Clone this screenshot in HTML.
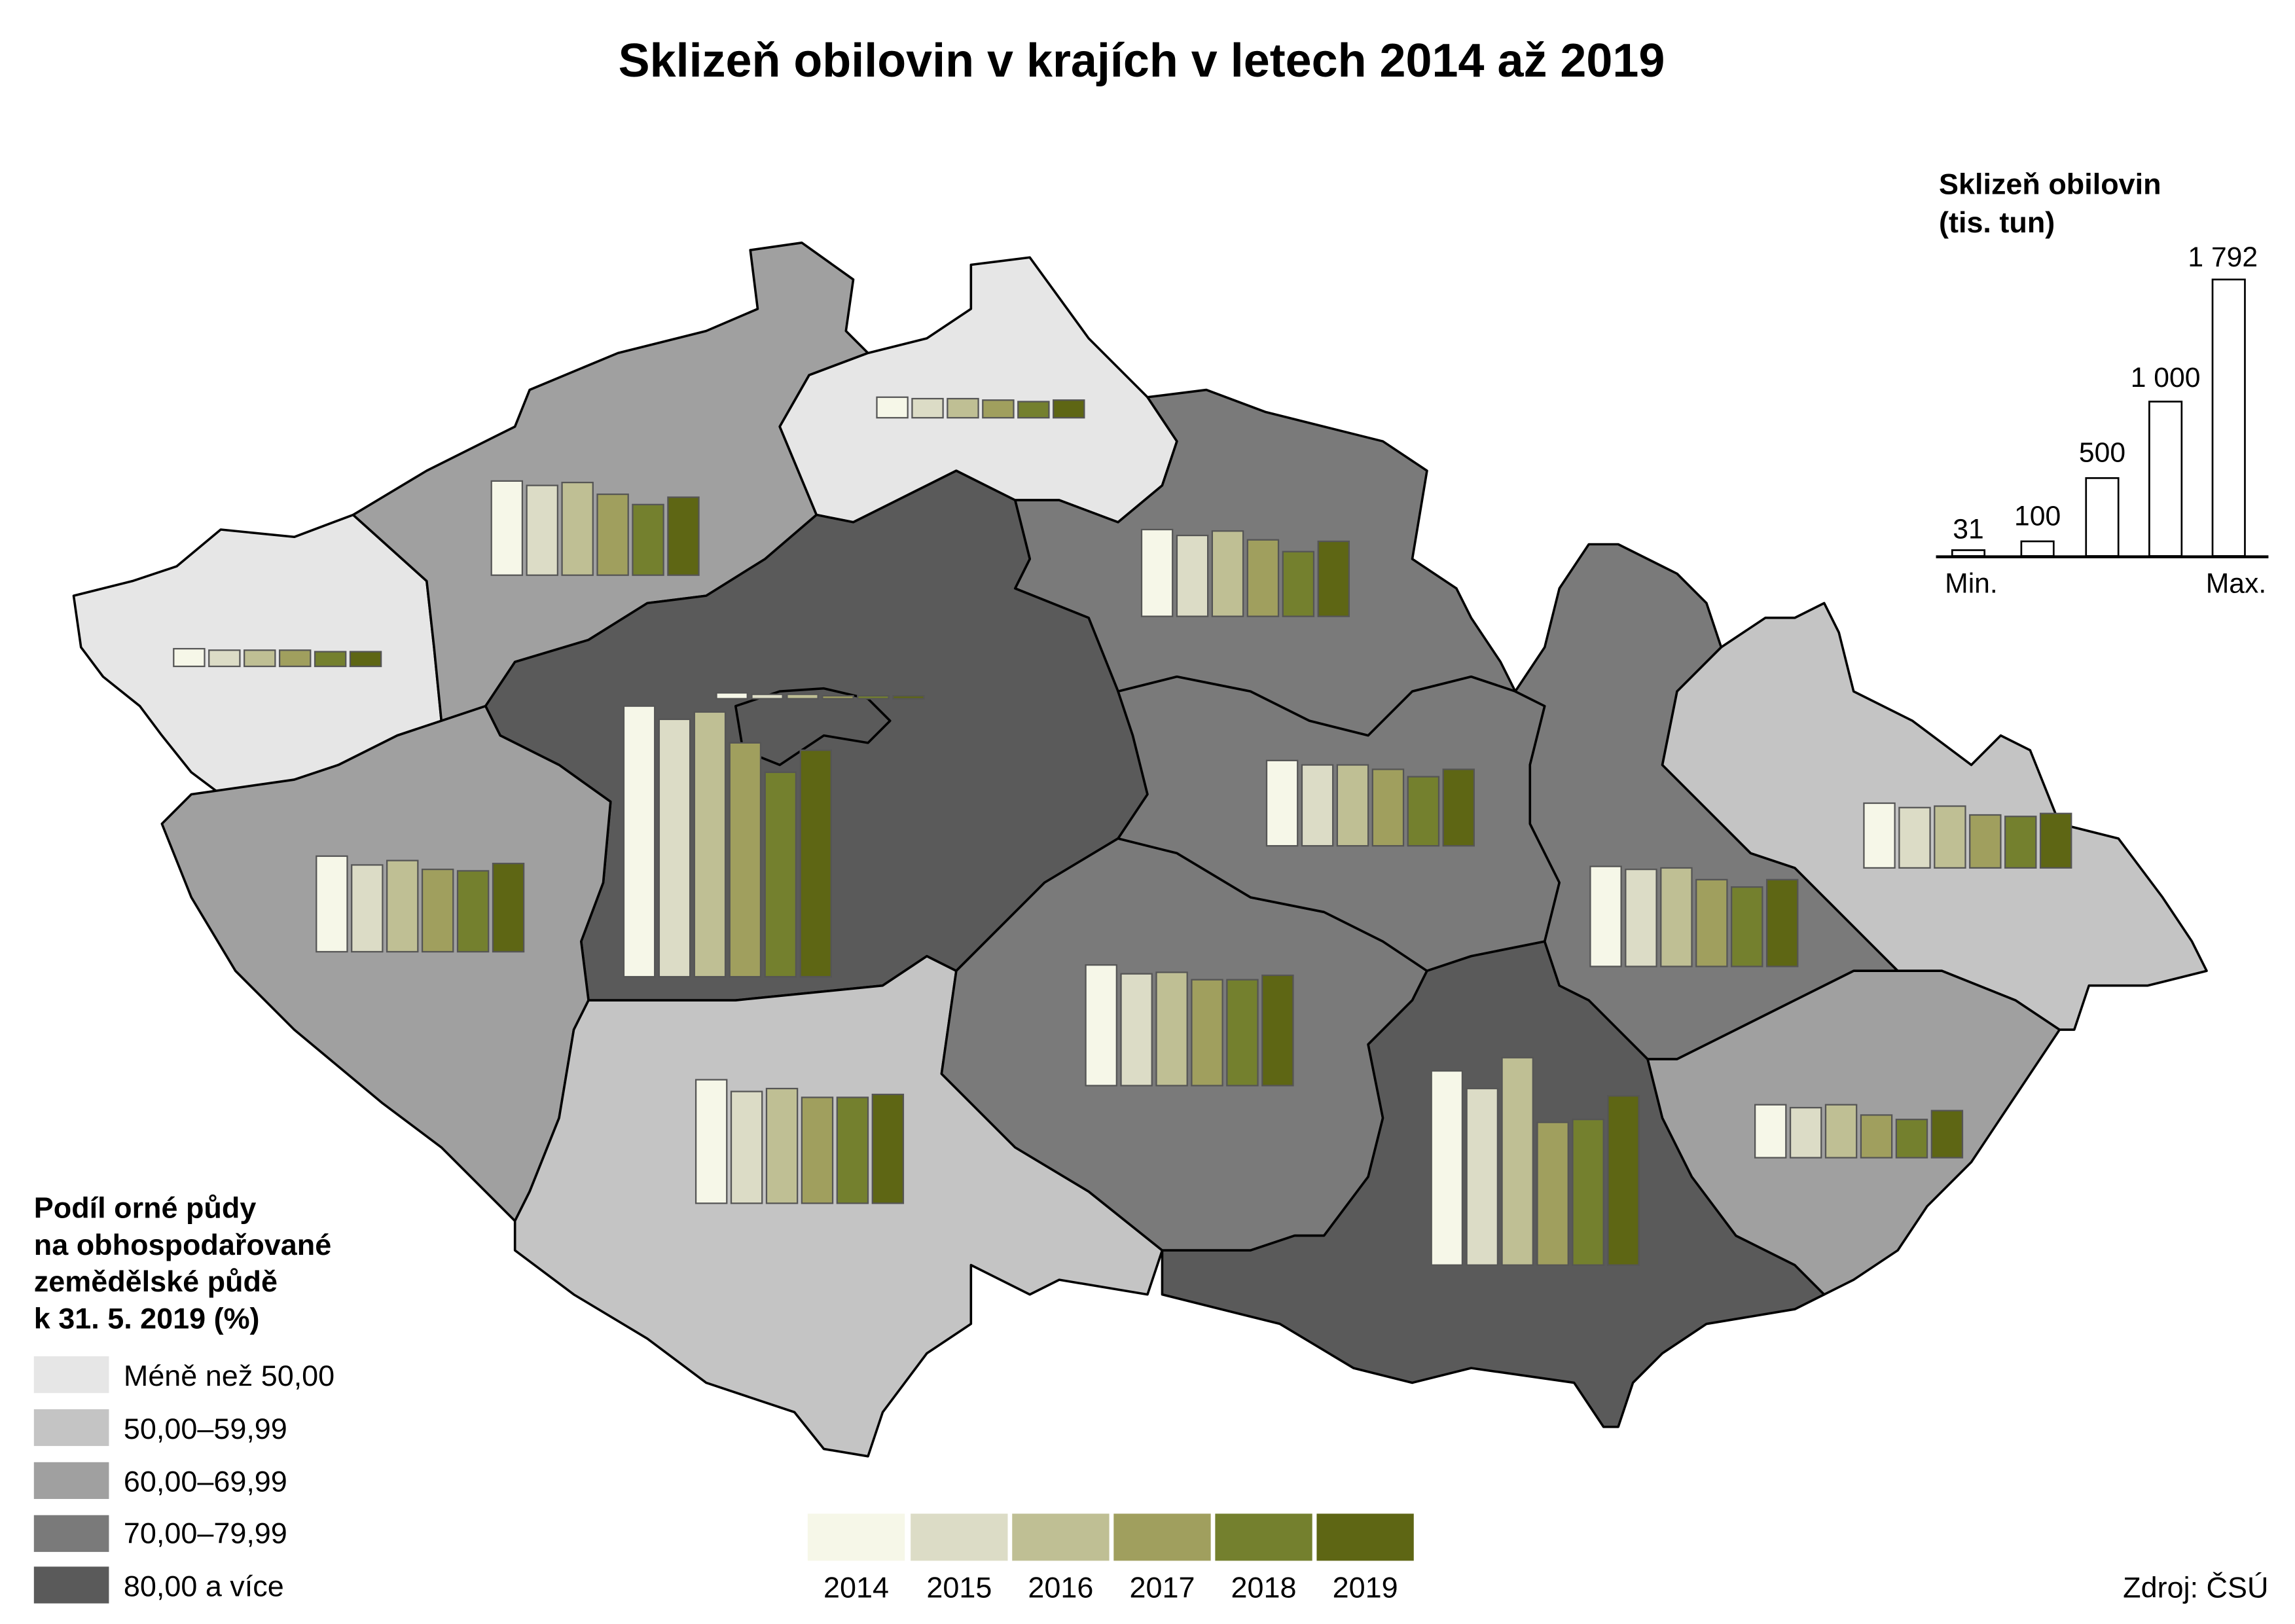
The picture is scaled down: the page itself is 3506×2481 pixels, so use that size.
<!DOCTYPE html>
<html><head><meta charset="utf-8"><style>
html,body{margin:0;padding:0;background:#fff;}
svg{display:block;}
text{font-family:"Liberation Sans",Arial,sans-serif;fill:#000;}
</style></head><body>
<svg width="3506" height="2481" viewBox="0 0 1560 1104" xmlns="http://www.w3.org/2000/svg">
<rect width="1560" height="1104" fill="#fff"/>
<text x="776" y="52" font-size="32" font-weight="bold" text-anchor="middle">Sklizeň obilovin v krajích v letech 2014 až 2019</text>
<g stroke="#000" stroke-width="1.6" stroke-linejoin="round">
<polygon fill="#e6e6e6" points="50,405 90,395 120,385 150,360 200,365 240,350 290,395 295,440 300,490 270,500 230,520 200,530 150,540 130,525 110,500 95,480 70,460 55,440"/>
<polygon fill="#a0a0a0" points="240,350 290,320 350,290 360,265 420,240 480,225 515,210 510,170 545,165 580,190 575,225 590,240 550,255 530,290 555,350 520,380 480,405 440,410 400,435 350,450 330,480 300,490 295,440 290,395"/>
<polygon fill="#e6e6e6" points="550,255 590,240 630,230 660,210 660,180 700,175 740,230 780,270 800,300 790,330 760,355 720,340 690,340 650,320 630,330 580,355 555,350 530,290"/>
<polygon fill="#7a7a7a" points="780,270 800,300 790,330 760,355 720,340 690,340 700,380 690,400 740,420 760,470 800,460 850,470 890,490 930,500 960,470 1000,460 1030,470 1020,450 1000,420 990,400 960,380 970,320 940,300 900,290 860,280 820,265"/>
<polygon fill="#5a5a5a" points="330,480 350,450 400,435 440,410 480,405 520,380 555,350 580,355 630,330 650,320 690,340 700,380 690,400 740,420 760,470 770,500 780,540 760,570 710,600 650,660 630,650 600,670 500,680 400,680 395,640 410,600 415,545 380,520 340,500"/>
<polygon fill="#5a5a5a" points="500,480 530,470 560,468 590,475 605,490 590,505 560,500 530,520 505,510"/>
<polygon fill="#a0a0a0" points="130,540 200,530 230,520 270,500 300,490 330,480 340,500 380,520 415,545 410,600 395,640 400,680 390,700 380,760 360,810 350,830 300,780 260,750 200,700 160,660 130,610 110,560"/>
<polygon fill="#c4c4c4" points="400,680 500,680 600,670 630,650 650,660 640,730 690,780 740,810 790,850 780,880 720,870 700,880 660,860 660,900 630,920 600,960 590,990 560,985 540,960 480,940 440,910 390,880 350,850 350,830 360,810 380,760 390,700"/>
<polygon fill="#7a7a7a" points="650,660 710,600 760,570 800,580 850,610 900,620 940,640 970,660 960,680 930,710 940,760 930,800 900,840 880,840 850,850 790,850 740,810 690,780 640,730"/>
<polygon fill="#7a7a7a" points="760,470 800,460 850,470 890,490 930,500 960,470 1000,460 1030,470 1050,480 1040,520 1040,560 1060,600 1050,640 1000,650 970,660 940,640 900,620 850,610 800,580 760,570 780,540 770,500"/>
<polygon fill="#5a5a5a" points="970,660 1000,650 1050,640 1060,670 1080,680 1100,700 1120,720 1130,760 1150,800 1180,840 1220,860 1240,880 1220,890 1160,900 1130,920 1110,940 1100,970 1090,970 1070,940 1000,930 960,940 920,930 870,900 830,890 790,880 790,850 850,850 880,840 900,840 930,800 940,760 930,710 960,680"/>
<polygon fill="#7a7a7a" points="1030,470 1050,440 1060,400 1080,370 1100,370 1140,390 1160,410 1170,440 1140,470 1130,520 1160,550 1190,580 1220,590 1240,610 1270,640 1290,660 1260,660 1220,680 1180,700 1140,720 1120,720 1100,700 1080,680 1060,670 1050,640 1060,600 1040,560 1040,520 1050,480"/>
<polygon fill="#c4c4c4" points="1170,440 1200,420 1220,420 1240,410 1250,430 1260,470 1300,490 1340,520 1360,500 1380,510 1400,560 1440,570 1470,610 1490,640 1500,660 1460,670 1420,670 1410,700 1400,700 1370,680 1320,660 1290,660 1270,640 1240,610 1220,590 1190,580 1160,550 1130,520 1140,470"/>
<polygon fill="#a0a0a0" points="1120,720 1140,720 1180,700 1220,680 1260,660 1290,660 1320,660 1370,680 1400,700 1380,730 1360,760 1340,790 1310,820 1290,850 1260,870 1240,880 1220,860 1180,840 1150,800 1130,760"/>
</g>
<g stroke="#555" stroke-width="1">
<!-- Karlovarsky -->
<rect x="118" y="441" width="21" height="12" fill="#f6f7e8"/><rect x="142" y="442" width="21" height="11" fill="#dcdcc6"/><rect x="166" y="442" width="21" height="11" fill="#bfbf94"/><rect x="190" y="442" width="21" height="11" fill="#a09f5e"/><rect x="214" y="443" width="21" height="10" fill="#74802e"/><rect x="238" y="443" width="21" height="10" fill="#5e6614"/>
<!-- Ustecky -->
<rect x="334" y="327" width="21" height="64" fill="#f6f7e8"/><rect x="358" y="330" width="21" height="61" fill="#dcdcc6"/><rect x="382" y="328" width="21" height="63" fill="#bfbf94"/><rect x="406" y="336" width="21" height="55" fill="#a09f5e"/><rect x="430" y="343" width="21" height="48" fill="#74802e"/><rect x="454" y="338" width="21" height="53" fill="#5e6614"/>
<!-- Liberecky -->
<rect x="596" y="270" width="21" height="14" fill="#f6f7e8"/><rect x="620" y="271" width="21" height="13" fill="#dcdcc6"/><rect x="644" y="271" width="21" height="13" fill="#bfbf94"/><rect x="668" y="272" width="21" height="12" fill="#a09f5e"/><rect x="692" y="273" width="21" height="11" fill="#74802e"/><rect x="716" y="272" width="21" height="12" fill="#5e6614"/>
<!-- Praha -->
<rect x="487" y="471" width="21" height="4" fill="#f6f7e8"/><rect x="511" y="472" width="21" height="3" fill="#dcdcc6"/><rect x="535" y="472" width="21" height="3" fill="#bfbf94"/><rect x="559" y="473" width="21" height="2" fill="#a09f5e"/><rect x="583" y="473" width="21" height="2" fill="#74802e"/><rect x="607" y="473" width="21" height="2" fill="#5e6614"/>
<!-- Stredocesky -->
<rect x="424" y="480" width="21" height="184" fill="#f6f7e8"/><rect x="448" y="489" width="21" height="175" fill="#dcdcc6"/><rect x="472" y="484" width="21" height="180" fill="#bfbf94"/><rect x="496" y="505" width="21" height="159" fill="#a09f5e"/><rect x="520" y="525" width="21" height="139" fill="#74802e"/><rect x="544" y="510" width="21" height="154" fill="#5e6614"/>
<!-- Kralovehradecky -->
<rect x="776" y="360" width="21" height="59" fill="#f6f7e8"/><rect x="800" y="364" width="21" height="55" fill="#dcdcc6"/><rect x="824" y="361" width="21" height="58" fill="#bfbf94"/><rect x="848" y="367" width="21" height="52" fill="#a09f5e"/><rect x="872" y="375" width="21" height="44" fill="#74802e"/><rect x="896" y="368" width="21" height="51" fill="#5e6614"/>
<!-- Plzensky -->
<rect x="215" y="582" width="21" height="65" fill="#f6f7e8"/><rect x="239" y="588" width="21" height="59" fill="#dcdcc6"/><rect x="263" y="585" width="21" height="62" fill="#bfbf94"/><rect x="287" y="591" width="21" height="56" fill="#a09f5e"/><rect x="311" y="592" width="21" height="55" fill="#74802e"/><rect x="335" y="587" width="21" height="60" fill="#5e6614"/>
<!-- Pardubicky -->
<rect x="861" y="517" width="21" height="58" fill="#f6f7e8"/><rect x="885" y="520" width="21" height="55" fill="#dcdcc6"/><rect x="909" y="520" width="21" height="55" fill="#bfbf94"/><rect x="933" y="523" width="21" height="52" fill="#a09f5e"/><rect x="957" y="528" width="21" height="47" fill="#74802e"/><rect x="981" y="523" width="21" height="52" fill="#5e6614"/>
<!-- Jihocesky -->
<rect x="473" y="734" width="21" height="84" fill="#f6f7e8"/><rect x="497" y="742" width="21" height="76" fill="#dcdcc6"/><rect x="521" y="740" width="21" height="78" fill="#bfbf94"/><rect x="545" y="746" width="21" height="72" fill="#a09f5e"/><rect x="569" y="746" width="21" height="72" fill="#74802e"/><rect x="593" y="744" width="21" height="74" fill="#5e6614"/>
<!-- Vysocina -->
<rect x="738" y="656" width="21" height="82" fill="#f6f7e8"/><rect x="762" y="662" width="21" height="76" fill="#dcdcc6"/><rect x="786" y="661" width="21" height="77" fill="#bfbf94"/><rect x="810" y="666" width="21" height="72" fill="#a09f5e"/><rect x="834" y="666" width="21" height="72" fill="#74802e"/><rect x="858" y="663" width="21" height="75" fill="#5e6614"/>
<!-- Olomoucky -->
<rect x="1081" y="589" width="21" height="68" fill="#f6f7e8"/><rect x="1105" y="591" width="21" height="66" fill="#dcdcc6"/><rect x="1129" y="590" width="21" height="67" fill="#bfbf94"/><rect x="1153" y="598" width="21" height="59" fill="#a09f5e"/><rect x="1177" y="603" width="21" height="54" fill="#74802e"/><rect x="1201" y="598" width="21" height="59" fill="#5e6614"/>
<!-- Moravskoslezsky -->
<rect x="1267" y="546" width="21" height="44" fill="#f6f7e8"/><rect x="1291" y="549" width="21" height="41" fill="#dcdcc6"/><rect x="1315" y="548" width="21" height="42" fill="#bfbf94"/><rect x="1339" y="554" width="21" height="36" fill="#a09f5e"/><rect x="1363" y="555" width="21" height="35" fill="#74802e"/><rect x="1387" y="553" width="21" height="37" fill="#5e6614"/>
<!-- Jihomoravsky -->
<rect x="973" y="728" width="21" height="132" fill="#f6f7e8"/><rect x="997" y="740" width="21" height="120" fill="#dcdcc6"/><rect x="1021" y="719" width="21" height="141" fill="#bfbf94"/><rect x="1045" y="763" width="21" height="97" fill="#a09f5e"/><rect x="1069" y="761" width="21" height="99" fill="#74802e"/><rect x="1093" y="745" width="21" height="115" fill="#5e6614"/>
<!-- Zlinsky -->
<rect x="1193" y="751" width="21" height="36" fill="#f6f7e8"/><rect x="1217" y="753" width="21" height="34" fill="#dcdcc6"/><rect x="1241" y="751" width="21" height="36" fill="#bfbf94"/><rect x="1265" y="758" width="21" height="29" fill="#a09f5e"/><rect x="1289" y="761" width="21" height="26" fill="#74802e"/><rect x="1313" y="755" width="21" height="32" fill="#5e6614"/>
</g>
<text x="1318" y="132" font-size="20" font-weight="bold">Sklizeň obilovin</text>
<text x="1318" y="158" font-size="20" font-weight="bold">(tis. tun)</text>
<g fill="#fff" stroke="#000" stroke-width="1.2">
<rect x="1327" y="374" width="22" height="4"/>
<rect x="1374" y="368" width="22" height="10"/>
<rect x="1418" y="325" width="22" height="53"/>
<rect x="1461" y="273" width="22" height="105"/>
<rect x="1504" y="190" width="22" height="188"/>
</g>
<line x1="1316" y1="378.5" x2="1542" y2="378.5" stroke="#000" stroke-width="2"/>
<g font-size="19" text-anchor="middle">
<text x="1338" y="366">31</text><text x="1385" y="357">100</text><text x="1429" y="314">500</text><text x="1472" y="263">1 000</text><text x="1511" y="181">1 792</text>
<text x="1340" y="403">Min.</text><text x="1520" y="403">Max.</text>
</g>
<g font-size="20" font-weight="bold">
<text x="23" y="828">Podíl orné půdy</text><text x="23" y="853">na obhospodařované</text><text x="23" y="878">zemědělské půdě</text><text x="23" y="903">k 31. 5. 2019 (%)</text>
</g>
<rect x="23" y="922" width="51" height="25" fill="#e6e6e6"/>
<rect x="23" y="958" width="51" height="25" fill="#c4c4c4"/>
<rect x="23" y="994" width="51" height="25" fill="#a0a0a0"/>
<rect x="23" y="1030" width="51" height="25" fill="#7a7a7a"/>
<rect x="23" y="1065" width="51" height="25" fill="#5a5a5a"/>
<g font-size="20">
<text x="84" y="942">Méně než 50,00</text><text x="84" y="978">50,00–59,99</text><text x="84" y="1014">60,00–69,99</text><text x="84" y="1049">70,00–79,99</text><text x="84" y="1085">80,00 a více</text>
</g>
<rect x="549" y="1029" width="66" height="32" fill="#f6f7e8"/>
<rect x="619" y="1029" width="66" height="32" fill="#dcdcc6"/>
<rect x="688" y="1029" width="66" height="32" fill="#bfbf94"/>
<rect x="757" y="1029" width="66" height="32" fill="#a09f5e"/>
<rect x="826" y="1029" width="66" height="32" fill="#74802e"/>
<rect x="895" y="1029" width="66" height="32" fill="#5e6614"/>
<g font-size="20" text-anchor="middle">
<text x="582" y="1086">2014</text><text x="652" y="1086">2015</text><text x="721" y="1086">2016</text><text x="790" y="1086">2017</text><text x="859" y="1086">2018</text><text x="928" y="1086">2019</text>
</g>
<text x="1542" y="1086" font-size="20" text-anchor="end">Zdroj: ČSÚ</text>
</svg>
</body></html>
